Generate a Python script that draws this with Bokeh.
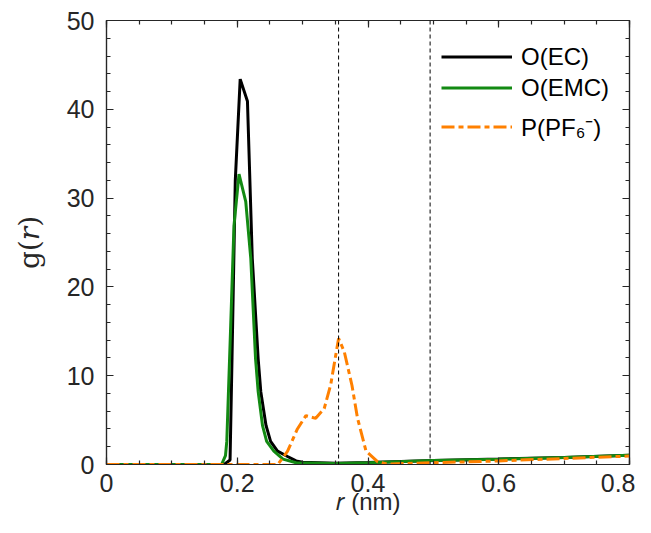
from bokeh.plotting import figure
from bokeh.models import (LinearAxis, Range1d, Span, Legend, LegendItem,
                          SingleIntervalTicker, CustomJSTickFormatter)
from bokeh.embed import file_html
from bokeh.resources import INLINE

# ---- data ----
ec_r = [0.0, 0.18, 0.189, 0.192, 0.197, 0.2045, 0.2156, 0.223, 0.232, 0.236, 0.244,
        0.251, 0.2616, 0.277, 0.29, 0.30, 0.35, 0.40, 0.50, 0.60, 0.70, 0.80]
ec_g = [0.0, 0.0, 0.5, 12.0, 32.0, 43.4, 40.9, 23.2, 11.9, 8.2, 4.4,
        2.6, 1.5, 0.9, 0.4, 0.25, 0.15, 0.22, 0.45, 0.62, 0.80, 1.05]

emc_r = [0.0, 0.176, 0.182, 0.184, 0.19, 0.195, 0.2027, 0.213, 0.2207, 0.228, 0.232,
         0.2386, 0.245, 0.256, 0.27, 0.29, 0.35, 0.40, 0.50, 0.60, 0.70, 0.80]
emc_g = [0.0, 0.0, 1.0, 2.6, 15.7, 26.9, 32.7, 29.6, 23.2, 11.9, 8.2,
         4.4, 2.6, 1.5, 0.6, 0.2, 0.12, 0.2, 0.45, 0.60, 0.80, 1.05]

pf6_r = [0.0, 0.262, 0.277, 0.292, 0.305, 0.32, 0.333, 0.343, 0.355, 0.3637, 0.3755,
         0.384, 0.397, 0.415, 0.43, 0.50, 0.60, 0.70, 0.80]
pf6_g = [0.0, 0.0, 1.5, 4.0, 5.5, 5.2, 6.3, 9.0, 14.2, 12.7, 8.9,
         5.2, 1.5, 0.3, 0.05, 0.2, 0.4, 0.68, 0.95]

vlines = [0.355, 0.495]
series_labels = ["O(EC)", "O(EMC)", "P(PF₆⁻)"]
x_label = "𝑟 (nm)"
y_label = "g(𝑟)"

AX = "#262626"
SANS = "Liberation Sans"
SERIF = "DejaVu Serif"

p = figure(width=635, height=517, output_backend="svg", toolbar_location=None,
           x_range=Range1d(0, 0.8), y_range=Range1d(0, 50),
           min_border_left=106, min_border_right=6, min_border_top=20,
           min_border_bottom=53, background_fill_color="white",
           border_fill_color="white")
p.grid.visible = False
p.outline_line_color = AX
p.outline_line_width = 1.2

p.xaxis.ticker = SingleIntervalTicker(interval=0.2, num_minor_ticks=4)
p.yaxis.ticker = SingleIntervalTicker(interval=10, num_minor_ticks=5)
p.xaxis.major_label_overrides = {0: "0"}


def style_axis(ax, labels=True):
    ax.axis_line_color = AX
    ax.axis_line_width = 1.2
    ax.major_tick_line_color = AX
    ax.minor_tick_line_color = AX
    ax.major_tick_line_width = 1.2
    ax.minor_tick_line_width = 1.2
    ax.major_tick_in = 7
    ax.major_tick_out = 0
    ax.minor_tick_in = 4
    ax.minor_tick_out = 0
    if labels:
        ax.major_label_text_font = SANS
        ax.major_label_text_font_size = "25px"
        ax.major_label_text_color = AX
    else:
        ax.formatter = CustomJSTickFormatter(code="return '';")
        ax.major_label_standoff = 0


for ax in p.xaxis:
    style_axis(ax)
    ax.major_label_standoff = 9
    ax.axis_label = x_label
    ax.axis_label_text_font = SANS
    ax.axis_label_text_font_style = "normal"
    ax.axis_label_text_font_size = "24px"
    ax.axis_label_text_color = AX
    ax.axis_label_standoff = -7
for ax in p.yaxis:
    style_axis(ax)
    ax.major_label_standoff = 12
    ax.axis_label = y_label
    ax.axis_label_text_font = SERIF
    ax.axis_label_text_font_style = "normal"
    ax.axis_label_text_font_size = "28px"
    ax.axis_label_text_color = AX
    ax.axis_label_standoff = 18

top = LinearAxis(ticker=SingleIntervalTicker(interval=0.2, num_minor_ticks=4))
right = LinearAxis(ticker=SingleIntervalTicker(interval=10, num_minor_ticks=5))
style_axis(top, labels=False)
style_axis(right, labels=False)
p.add_layout(top, "above")
p.add_layout(right, "right")

r1 = p.line(ec_r, ec_g, line_color="black", line_width=3)
r2 = p.line(emc_r, emc_g, line_color="#138A13", line_width=3)
r3 = p.line(pf6_r, pf6_g, line_color="#FF8000", line_width=3, line_dash="13 4 5 4")

for v in vlines:
    p.add_layout(Span(location=v, dimension="height", line_color="black",
                      line_width=1, line_dash="4 3"))

leg_common = dict(border_line_color=None, background_fill_alpha=0, padding=0,
                  margin=0, spacing=0, glyph_width=71, glyph_height=31,
                  label_height=31, label_standoff=9, label_text_font=SANS,
                  label_text_font_size="24px", label_text_color="black")
leg1 = Legend(items=[LegendItem(label=series_labels[0], renderers=[r1]),
                     LegendItem(label=series_labels[1], renderers=[r2])],
              location=(335, 361), **leg_common)
leg2 = Legend(items=[LegendItem(label=series_labels[2], renderers=[r3])],
              location=(335, 321), **leg_common)
p.add_layout(leg1)
p.add_layout(leg2)

open("out.html", "w").write(file_html(p, INLINE))
